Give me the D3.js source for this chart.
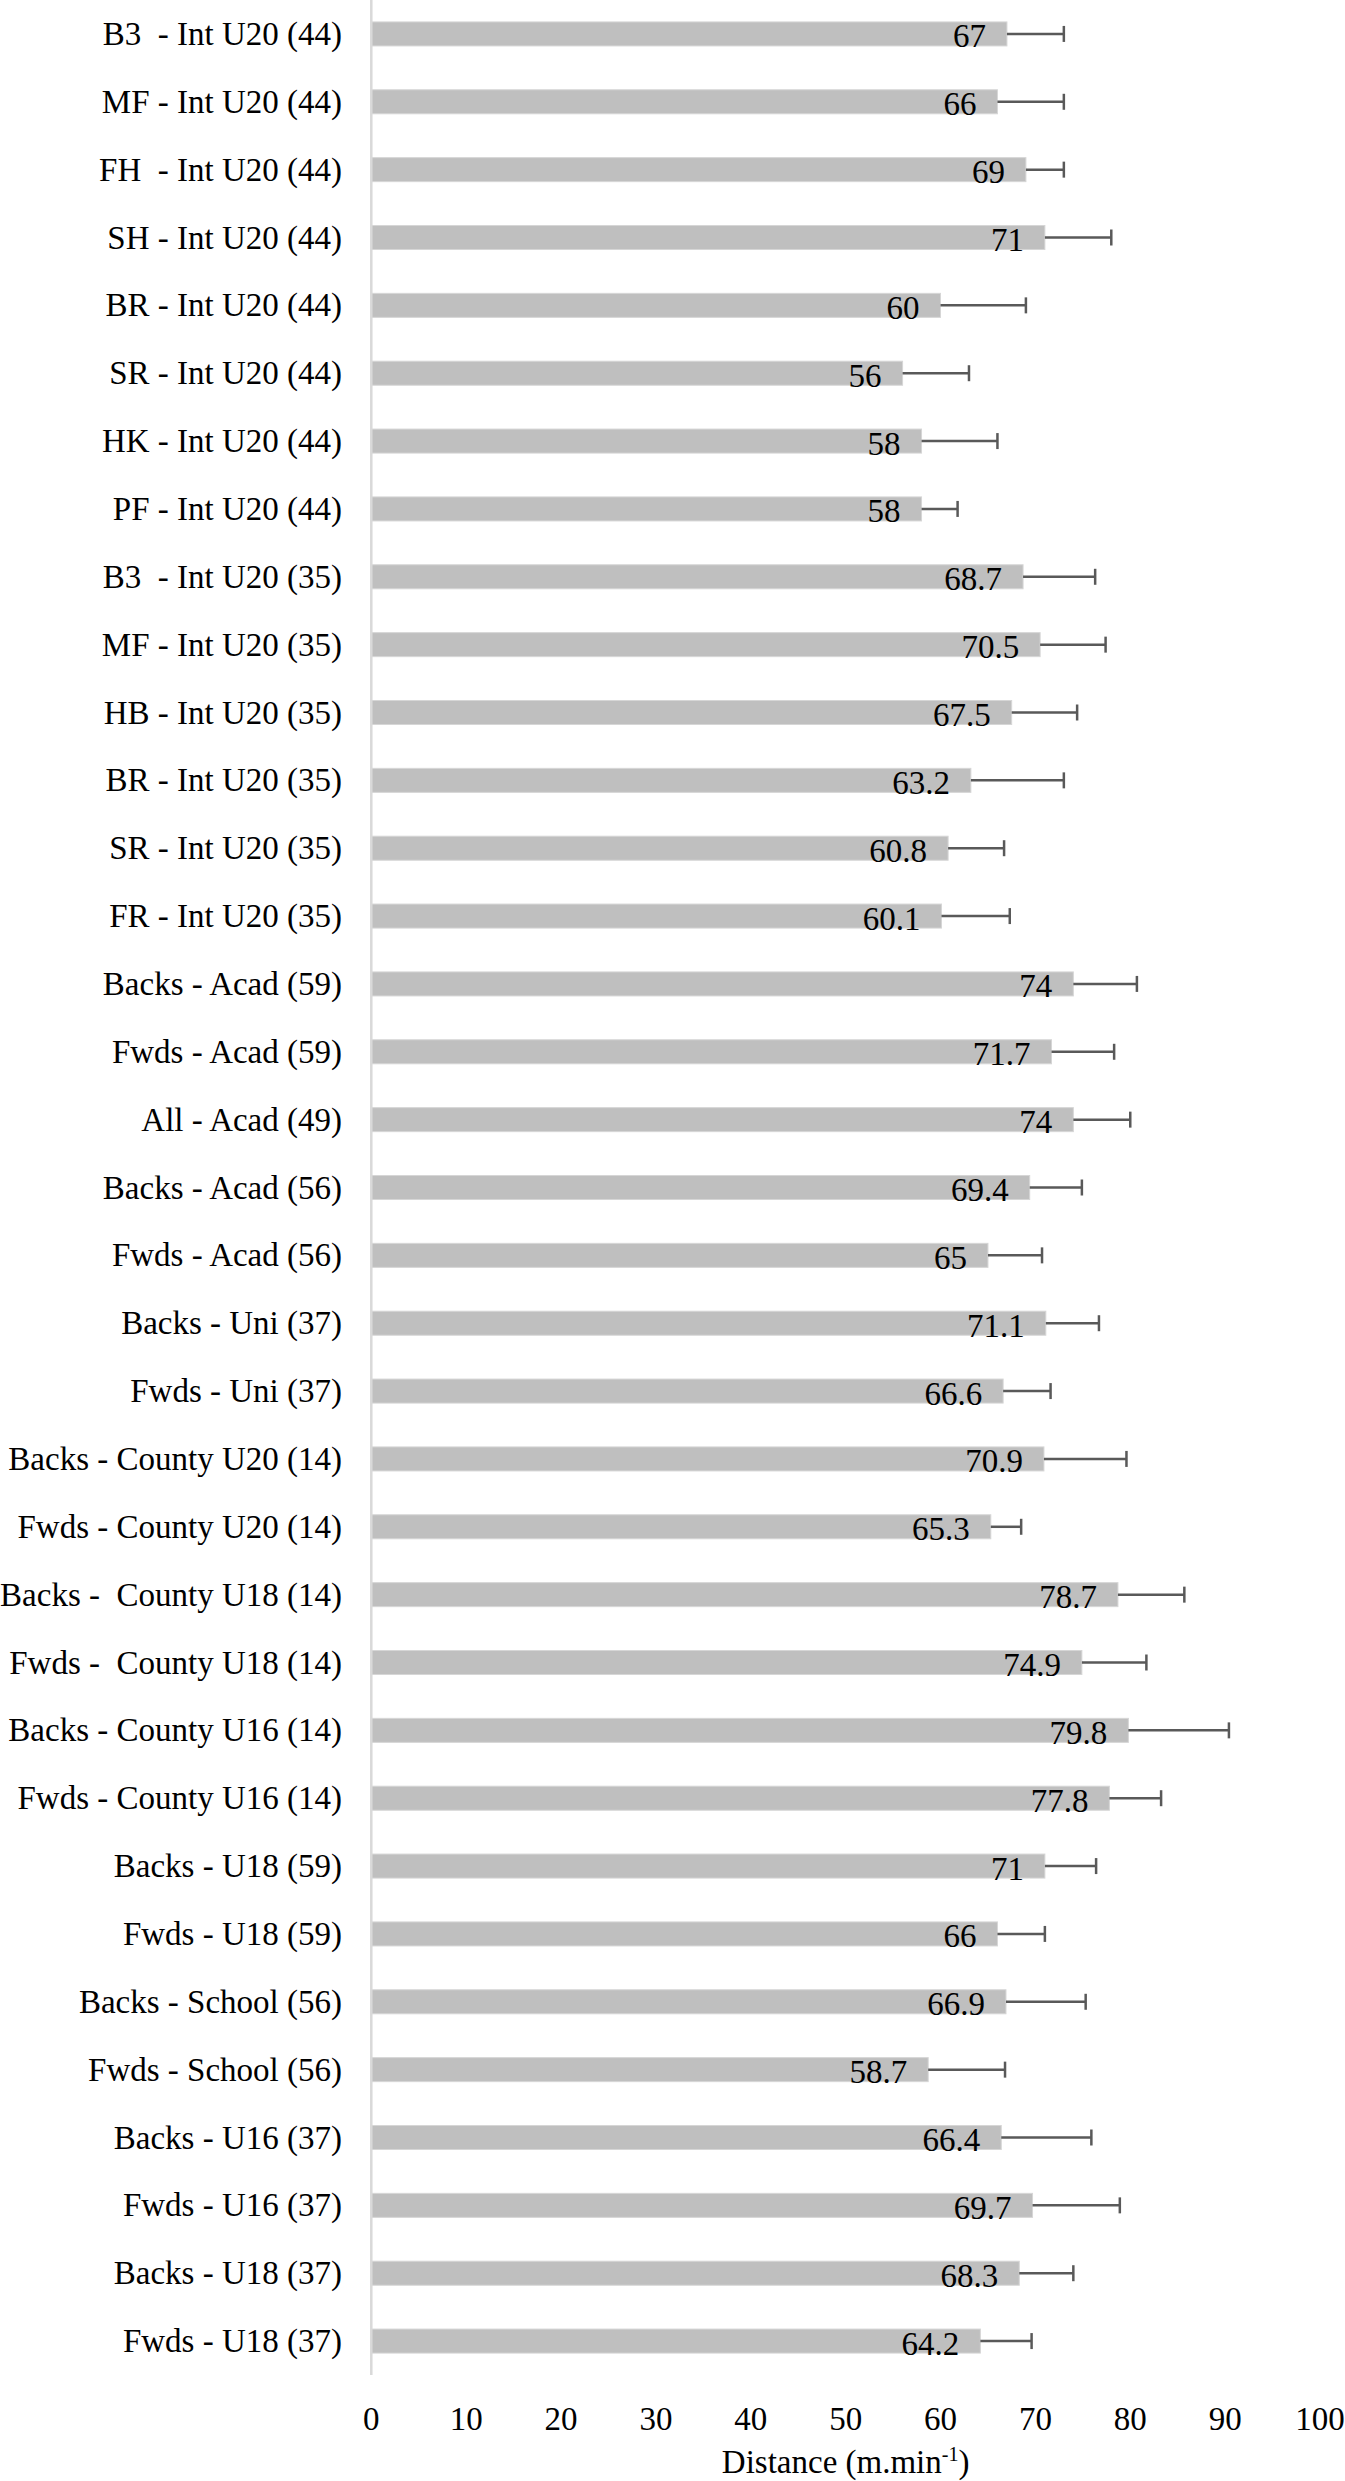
<!DOCTYPE html>
<html>
<head>
<meta charset="utf-8">
<script src="https://cdn.jsdelivr.net/npm/d3@7"></script>
<style>
  body { margin: 0; background: #fff; }
  text { font-family: "Liberation Serif", "Times New Roman", serif; fill: #000; white-space: pre; }
</style>
</head>
<body>
<div id="chart"></div>
<script>
// categories, top to bottom
var categories = [
  "B3  - Int U20 (44)", "MF - Int U20 (44)", "FH  - Int U20 (44)", "SH - Int U20 (44)",
  "BR - Int U20 (44)", "SR - Int U20 (44)", "HK - Int U20 (44)", "PF - Int U20 (44)",
  "B3  - Int U20 (35)", "MF - Int U20 (35)", "HB - Int U20 (35)", "BR - Int U20 (35)",
  "SR - Int U20 (35)", "FR - Int U20 (35)", "Backs - Acad (59)", "Fwds - Acad (59)",
  "All - Acad (49)", "Backs - Acad (56)", "Fwds - Acad (56)", "Backs - Uni (37)",
  "Fwds - Uni (37)", "Backs - County U20 (14)", "Fwds - County U20 (14)",
  "Backs -  County U18 (14)", "Fwds -  County U18 (14)", "Backs - County U16 (14)",
  "Fwds - County U16 (14)", "Backs - U18 (59)", "Fwds - U18 (59)", "Backs - School (56)",
  "Fwds - School (56)", "Backs - U16 (37)", "Fwds - U16 (37)", "Backs - U18 (37)",
  "Fwds - U18 (37)"
];

// mean distance (m.min-1)
var means = [67, 66, 69, 71, 60, 56, 58, 58, 68.7, 70.5, 67.5, 63.2, 60.8, 60.1,
  74, 71.7, 74, 69.4, 65, 71.1, 66.6, 70.9, 65.3, 78.7, 74.9, 79.8, 77.8,
  71, 66, 66.9, 58.7, 66.4, 69.7, 68.3, 64.2];

// standard deviation
var sds = [6.0, 7.0, 4.0, 7.0, 9.0, 7.0, 8.0, 3.8, 7.6, 6.9, 6.9, 9.8, 5.9, 7.2,
  6.7, 6.6, 6.0, 5.5, 5.7, 5.6, 5.0, 8.7, 3.2, 7.0, 6.8, 10.6, 5.45,
  5.4, 5.0, 8.4, 8.1, 9.5, 9.2, 5.7, 5.4];

var xTicks = [0, 10, 20, 30, 40, 50, 60, 70, 80, 90, 100];

var width = 1345,
    height = 2481;

var data = categories.map(function(c, i) {
  return {name: c, value: means[i], sd: sds[i]};
});

var svg = d3.select("#chart")
  .append("svg")
    .attr("width", width)
    .attr("height", height);

var x = d3.scaleLinear()
  .domain([0, 100])
  .range([371.3, 1320]);

var y = d3.scaleBand()
  .domain(categories)
  .range([0, 2375])
  .paddingInner(0.646)
  .paddingOuter(0.323);

// bars
svg.selectAll(".bar")
  .data(data)
  .enter()
  .append("rect")
    .attr("class", "bar")
    .attr("x", x(0))
    .attr("y", function(d) { return y(d.name); })
    .attr("width", function(d) { return x(d.value) - x(0); })
    .attr("height", y.bandwidth())
    .attr("fill", "#bfbfbf")
    .attr("stroke", "#d6d6d6")
    .attr("stroke-width", 1);

// vertical axis line
svg.append("line")
  .attr("x1", x(0)).attr("x2", x(0))
  .attr("y1", 0).attr("y2", 2375)
  .attr("stroke", "#d9d9d9")
  .attr("stroke-width", 2.5);

// error bars
var err = svg.selectAll(".err")
  .data(data)
  .enter()
  .append("g")
    .attr("class", "err")
    .attr("transform", function(d) { return "translate(0," + (y(d.name) + y.bandwidth() / 2) + ")"; });

err.append("line")
  .attr("x1", function(d) { return x(d.value); })
  .attr("x2", function(d) { return x(d.value + d.sd); })
  .attr("stroke", "#595959")
  .attr("stroke-width", 2.5);

err.append("line")
  .attr("x1", function(d) { return x(d.value + d.sd); })
  .attr("x2", function(d) { return x(d.value + d.sd); })
  .attr("y1", -8).attr("y2", 8)
  .attr("stroke", "#595959")
  .attr("stroke-width", 2.5);

// value labels
svg.selectAll(".val")
  .data(data)
  .enter()
  .append("text")
    .attr("class", "val")
    .attr("x", function(d) { return x(d.value) - 21; })
    .attr("y", function(d) { return y(d.name) + y.bandwidth() + 1.5; })
    .attr("text-anchor", "end")
    .style("font-size", "33px")
    .text(function(d) { return String(d.value); });

// category labels
svg.selectAll(".cat")
  .data(data)
  .enter()
  .append("text")
    .attr("class", "cat")
    .attr("x", 342)
    .attr("y", function(d) { return y(d.name) + y.bandwidth() - 1; })
    .attr("text-anchor", "end")
    .style("font-size", "33px")
    .text(function(d) { return d.name; });

// x axis tick labels
svg.selectAll(".tick")
  .data(xTicks)
  .enter()
  .append("text")
    .attr("class", "tick")
    .attr("x", function(d) { return x(d); })
    .attr("y", 2430)
    .attr("text-anchor", "middle")
    .style("font-size", "33px")
    .text(function(d) { return d; });

// axis title
var title = svg.append("text")
  .attr("x", x(50))
  .attr("y", 2473)
  .attr("text-anchor", "middle")
  .style("font-size", "33px");
title.append("tspan").text("Distance (m.min");
title.append("tspan").attr("dy", -12).style("font-size", "20px").text("-1");
title.append("tspan").attr("dy", 12).text(")");
</script>
</body>
</html>
